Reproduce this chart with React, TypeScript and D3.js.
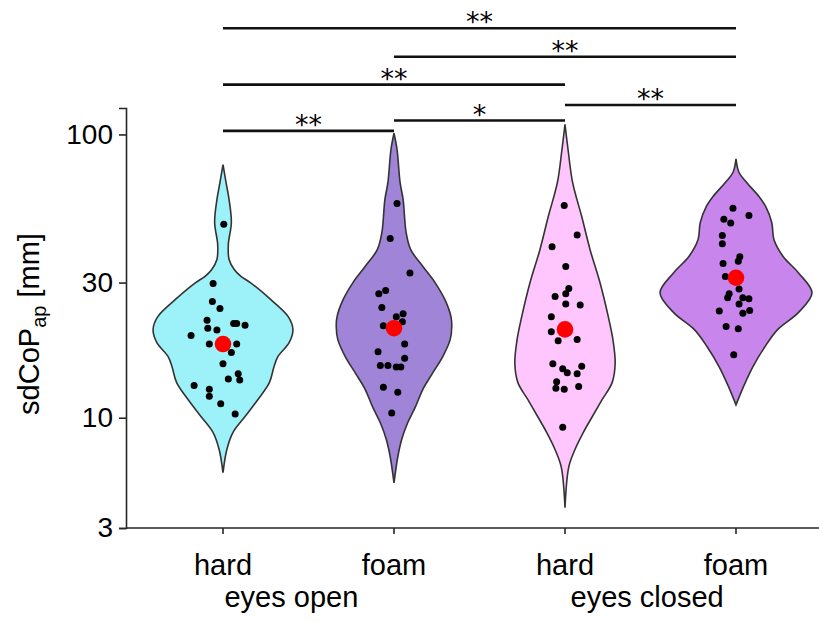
import React, { useEffect, useRef } from 'react';
import * as d3 from 'd3';

// conditions, left to right
const categories = ['eo-hard', 'eo-foam', 'ec-hard', 'ec-foam'];
const categoryLabels = ['hard', 'foam', 'hard', 'foam'];
const groupLabels = ['eyes open', 'eyes closed'];
// where each group label sits, in category-index units
const groupPositions = [0.4, 2.48];
const fillColors = ['#9df1f9', '#9f84d8', '#ffc6fd', '#c885ec'];

// y ticks (log axis)
const yTicks = [3, 10, 30, 100];

// individual subjects, sdCoP_ap in mm
const eoHardValues = [48.2, 29.8, 25.7, 24.3, 22.1, 20.7, 20.4, 21.5, 21.5, 21.2, 19.5, 18.2, 18.2, 17.0, 15.5, 14.3, 13.6, 13.7, 13.0, 12.6, 11.9, 11.2, 10.3];
const eoFoamValues = [57.0, 42.9, 32.4, 28.1, 27.4, 24.5, 23.3, 22.7, 21.8, 21.1, 18.2, 17.1, 16.2, 15.3, 15.3, 15.1, 15.1, 12.8, 12.3, 10.4];
const ecHardValues = [56.1, 44.2, 40.1, 34.2, 28.6, 27.4, 26.8, 25.2, 25.0, 22.7, 20.1, 18.7, 18.9, 15.5, 14.9, 14.4, 15.2, 14.3, 13.4, 12.7, 12.6, 12.9, 9.25];
const ecFoamValues = [54.9, 51.7, 50.2, 48.7, 44.0, 41.1, 37.0, 35.7, 35.0, 31.5, 28.5, 27.4, 26.5, 26.5, 26.3, 25.2, 23.8, 23.4, 23.9, 21.0, 20.6, 16.7];

// horizontal jitter of the dots (in density units)
const eoHardJitter = [0.01, -0.13, -0.14, -0.04, -0.21, -0.2, -0.08, 0.14, 0.18, 0.29, -0.42, -0.18, 0.18, 0.11, 0, 0.2, 0.22, 0.07, -0.38, -0.18, -0.18, -0.03, 0.16];
const eoFoamJitter = [0.04, -0.05, 0.21, -0.11, -0.2, -0.16, 0.12, 0.03, 0.11, -0.14, 0.14, -0.21, 0.14, -0.18, -0.08, 0.03, 0.09, -0.14, 0.05, -0.03];
const ecHardJitter = [-0.01, 0.16, -0.17, 0.01, 0.05, 0.01, -0.13, 0.01, 0.2, -0.18, -0.18, -0.09, 0.16, -0.16, -0.03, 0.03, 0.22, 0.16, -0.11, -0.12, -0.01, 0.18, -0.03];
const ecFoamJitter = [-0.04, 0.17, -0.16, -0.07, -0.18, -0.18, 0.05, 0.03, -0.17, -0.14, 0.04, -0.09, -0.11, 0.09, 0.17, 0.04, -0.22, 0.09, 0.18, -0.13, 0.03, -0.03];

// group means (red dots)
const means = [18.2, 20.7, 20.5, 31.2];

// violin density profiles: [value in mm, relative density]
const eoHardDensity = [[78.3, 0], [67.7, 0.04], [58.9, 0.08], [48.9, 0.11], [40.9, 0.07], [36.2, 0.08], [33.3, 0.15], [31.5, 0.24], [30.0, 0.36], [26.1, 0.63], [22.7, 0.86], [20.5, 0.92], [18.4, 0.87], [16.4, 0.72], [15.1, 0.67], [13.3, 0.61], [11.6, 0.46], [10.1, 0.29], [8.86, 0.13], [7.71, 0.05], [6.4, 0]];
const eoFoamDensity = [[101, 0], [88.5, 0.04], [67.7, 0.08], [58.9, 0.12], [45.0, 0.16], [39.2, 0.22], [34.2, 0.38], [30.0, 0.54], [26.1, 0.67], [22.7, 0.75], [21.0, 0.76], [18.9, 0.74], [16.4, 0.64], [14.4, 0.51], [12.6, 0.38], [10.9, 0.28], [9.6, 0.18], [8.36, 0.1], [7.28, 0.05], [5.89, 0]];
const ecHardDensity = [[108.5, 0], [88.5, 0.04], [67.7, 0.1], [51.3, 0.22], [39.2, 0.33], [30.0, 0.46], [22.7, 0.57], [18.9, 0.63], [15.6, 0.66], [13.3, 0.62], [11.6, 0.49], [10.1, 0.36], [8.86, 0.24], [7.71, 0.13], [6.71, 0.05], [4.81, 0]];
const ecFoamDensity = [[82, 0], [73.4, 0.04], [67.7, 0.14], [60.5, 0.3], [55.7, 0.39], [48.9, 0.47], [42.5, 0.5], [37.1, 0.62], [32.5, 0.82], [27.6, 1.0], [23.5, 0.82], [20.5, 0.55], [17.8, 0.38], [15.1, 0.22], [12.9, 0.1], [11.1, 0]];

// significance brackets: [from, to, label, height in mm]
const sigFrom = [0, 1, 2, 0, 1, 0];
const sigTo = [1, 2, 3, 2, 3, 3];
const sigLabels = ['**', '*', '**', '**', '**', '**'];
const sigLevels = [103, 112, 127, 150, 188, 237];

const App = () => {
  const svgRef = useRef<SVGSVGElement>(null);

  useEffect(() => {
    const width = 819;
    const height = 622;
    const margin = { top: 108, right: 0, bottom: 94, left: 126 };
    const font = '"Liberation Sans", Arial, sans-serif';

    const svg = d3.select(svgRef.current);
    svg.selectAll('*').remove();
    svg.attr('width', width).attr('height', height);

    const values = [eoHardValues, eoFoamValues, ecHardValues, ecFoamValues];
    const jitters = [eoHardJitter, eoFoamJitter, ecHardJitter, ecFoamJitter];
    const densities = [eoHardDensity, eoFoamDensity, ecHardDensity, ecFoamDensity];

    const x = d3.scalePoint()
      .domain(categories)
      .range([223, 736]);
    const xIdx = d3.scaleLinear().domain([0, categories.length - 1]).range(x.range());

    const y = d3.scaleLog()
      .domain([4.08, 124])
      .range([height - margin.bottom, margin.top])
      .clamp(true);
    const yFree = y.copy().clamp(false);

    const w = d3.scaleLinear().domain([0, 1]).range([0, 76]);

    // violins
    densities.forEach((dens, i) => {
      const cx = x(categories[i]) as number;
      const area = d3.area<number[]>()
        .y(d => y(d[0]))
        .x0(d => cx - w(d[1]))
        .x1(d => cx + w(d[1]))
        .curve(d3.curveCatmullRom);
      svg.append('path')
        .datum(dens)
        .attr('d', area)
        .attr('fill', fillColors[i])
        .attr('stroke', '#333')
        .attr('stroke-width', 1.6);
    });

    // dots
    values.forEach((vals, i) => {
      const cx = x(categories[i]) as number;
      svg.append('g')
        .selectAll('circle')
        .data(vals)
        .join('circle')
        .attr('cx', (_, j) => cx + w(jitters[i][j]))
        .attr('cy', d => y(d))
        .attr('r', 3.5)
        .attr('fill', '#000');
    });

    // means
    svg.append('g')
      .selectAll('circle')
      .data(means)
      .join('circle')
      .attr('cx', (_, i) => x(categories[i]) as number)
      .attr('cy', d => y(d))
      .attr('r', 8.3)
      .attr('fill', '#ff0000');

    // y axis
    const yAxis = svg.append('g')
      .attr('transform', `translate(${margin.left},0)`)
      .call(d3.axisLeft(y).tickValues(yTicks).tickFormat(d3.format('d')).tickSize(7).tickPadding(6));
    yAxis.select('.domain').attr('stroke', '#262626').attr('stroke-width', 1.6);
    yAxis.selectAll('.tick line').attr('stroke', '#262626').attr('stroke-width', 1.6);
    yAxis.selectAll('text')
      .style('font-family', font)
      .style('font-size', '28px')
      .attr('fill', '#000');

    // x axis (line spans the full plot width)
    const xAxis = svg.append('g')
      .attr('transform', `translate(0,${height - margin.bottom})`);
    xAxis.append('line')
      .attr('x1', margin.left)
      .attr('x2', width - margin.right)
      .attr('stroke', '#262626')
      .attr('stroke-width', 1.6);
    xAxis.selectAll('.tick')
      .data(categories)
      .join('line')
      .attr('x1', d => x(d) as number)
      .attr('x2', d => x(d) as number)
      .attr('y1', 0)
      .attr('y2', 6)
      .attr('stroke', '#262626')
      .attr('stroke-width', 1.6);
    xAxis.selectAll('.cat')
      .data(categories)
      .join('text')
      .attr('x', d => x(d) as number)
      .attr('y', 47)
      .attr('text-anchor', 'middle')
      .style('font-family', font)
      .style('font-size', '29px')
      .text((_, i) => categoryLabels[i]);
    xAxis.selectAll('.grp')
      .data(groupLabels)
      .join('text')
      .attr('x', (_, i) => xIdx(groupPositions[i]))
      .attr('y', 79)
      .attr('text-anchor', 'middle')
      .style('font-family', font)
      .style('font-size', '29px')
      .text(d => d);

    // y title
    const title = svg.append('text')
      .attr('transform', `translate(39,${(margin.top + height - margin.bottom) / 2 + 6}) rotate(-90)`)
      .attr('text-anchor', 'middle')
      .style('font-family', font)
      .style('font-size', '29px');
    title.append('tspan').text('sdCoP');
    title.append('tspan').attr('dy', 7).style('font-size', '20px').text('ap');
    title.append('tspan').attr('dy', -7).text(' [mm]');

    // significance brackets
    const sig = svg.append('g');
    sigLevels.forEach((lv, i) => {
      const x1 = x(categories[sigFrom[i]]) as number;
      const x2 = x(categories[sigTo[i]]) as number;
      const yy = yFree(lv);
      sig.append('line')
        .attr('x1', x1)
        .attr('x2', x2)
        .attr('y1', yy)
        .attr('y2', yy)
        .attr('stroke', '#111')
        .attr('stroke-width', 2.6);
      sig.append('text')
        .attr('x', (x1 + x2) / 2)
        .attr('y', yy + 3)
        .attr('text-anchor', 'middle')
        .style('font-family', '"DejaVu Sans", sans-serif')
        .style('font-size', '27px')
        .text(sigLabels[i]);
    });
  }, []);

  return (
    <svg ref={svgRef} style={{ position: 'absolute', left: 0, top: 0, display: 'block' }}></svg>
  );
};

export default App;
